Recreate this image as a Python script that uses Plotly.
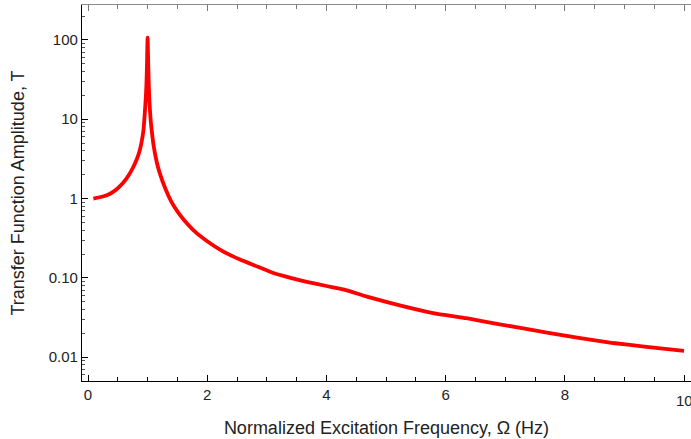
import plotly.graph_objects as go

# values
freq = [0.09, 0.25, 0.37, 0.47, 0.59, 0.68, 0.76, 0.82, 0.87, 0.90, 0.93, 0.95, 0.97, 0.98,
        0.99, 1.0, 1.01, 1.02, 1.03, 1.05, 1.07, 1.10, 1.15, 1.20, 1.30, 1.40, 1.50,
        1.60, 1.80, 2.00, 2.25, 2.55, 2.85, 3.11, 3.40, 3.67, 4.00, 4.30, 4.68, 5.23,
        5.79, 6.35, 6.91, 7.70, 8.26, 8.81, 9.37, 10.0]
amp = [1.0, 1.06, 1.15, 1.29, 1.58, 1.95, 2.5, 3.15, 4.1, 5.2, 7.2, 11, 19, 27,
       50, 107, 50, 27, 17, 10, 7.1, 4.7, 2.95, 2.14, 1.32, 0.91, 0.69,
       0.55, 0.38, 0.29, 0.219, 0.17, 0.138, 0.115, 0.100, 0.089, 0.079, 0.071, 0.058, 0.045,
       0.036, 0.031, 0.026, 0.0204, 0.0174, 0.0151, 0.0135, 0.012]

ytick_vals = [0.01, 0.1, 1, 10, 100]
ytick_text = ["0.01", "0.10", "1", "10", "100"]
xtick_vals = [0, 2, 4, 6, 8, 10]

font = dict(family="Arial", size=15, color="#222")

fig = go.Figure()
fig.add_trace(go.Scatter(x=freq, y=amp, mode="lines",
                         line=dict(color="#ff0000", width=3.8, shape="spline", smoothing=0.5),
                         hoverinfo="skip", showlegend=False))
# invisible copy so the top frame axis is drawn
fig.add_trace(go.Scatter(x=freq, y=amp, xaxis="x2", mode="lines",
                         line=dict(width=0), opacity=0,
                         hoverinfo="skip", showlegend=False))

# last x label sits on the window edge, plotly drops it, so put it back by hand
fig.add_annotation(x=xtick_vals[-1], xref="x", y=0, yref="paper", text=str(xtick_vals[-1]),
                   showarrow=False, yanchor="top", xanchor="center", yshift=-9,
                   font=dict(size=15))

fig.update_layout(
    width=691, height=439,
    margin=dict(l=82, r=0, t=5, b=58),
    paper_bgcolor="white", plot_bgcolor="white",
    font=font,
    xaxis=dict(
        range=[-0.1007, 10.117], tickvals=xtick_vals, automargin=False,
        ticks="inside", ticklen=6, tickcolor="#000", tickwidth=1,
        showline=True, linecolor="#000", linewidth=1.3,
        showgrid=False, zeroline=False,
        minor=dict(ticks="inside", ticklen=4, dtick=0.5, tickcolor="#000", showgrid=False),
        title=dict(text="Normalized Excitation Frequency, Ω (Hz)", standoff=19),
    ),
    xaxis2=dict(
        overlaying="x", matches="x", side="top", automargin=False,
        tickvals=xtick_vals, showticklabels=False,
        ticks="inside", ticklen=6, tickcolor="#777",
        showline=True, linecolor="#8a8a8a", linewidth=1.3,
        showgrid=False, zeroline=False,
        minor=dict(ticks="inside", ticklen=4, dtick=0.5, tickcolor="#777", showgrid=False),
    ),
    yaxis=dict(
        type="log", range=[-2.30, 2.44], automargin=False,
        tickvals=ytick_vals, ticktext=ytick_text,
        ticks="inside", ticklen=6, tickcolor="#000", tickwidth=1,
        showline=True, linecolor="#000", linewidth=1.3,
        showgrid=False, zeroline=False,
        minor=dict(ticks="inside", ticklen=3, dtick="D1", tickcolor="#555", showgrid=False),
        title=dict(text="Transfer Function Amplitude, T", standoff=19),
    ),
)

# drop the page's default body margin so the figure sits at the window corner
fig.write_html("out.html", config={"displayModeBar": False},
               post_script="document.body.style.margin='0';")
